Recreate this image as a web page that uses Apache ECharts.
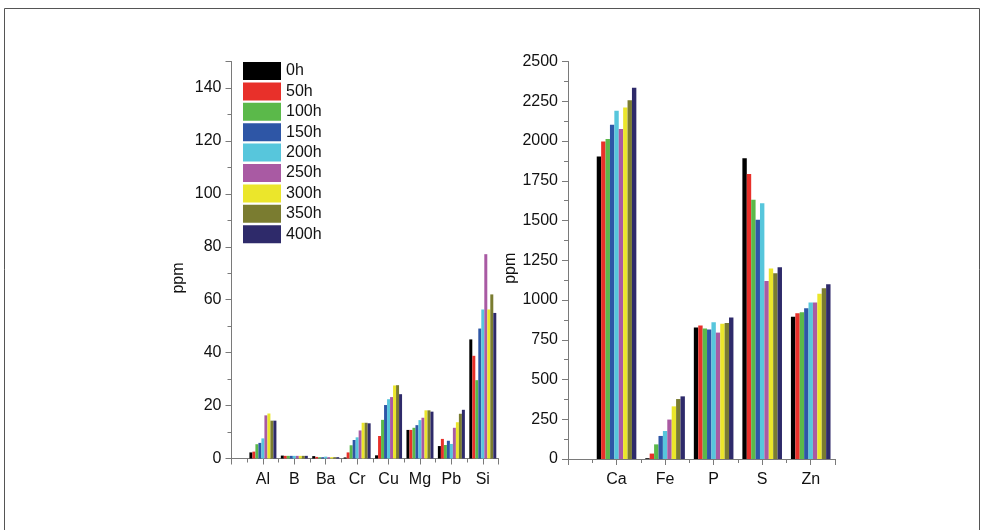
<!DOCTYPE html>
<html>
<head>
<meta charset="utf-8">
<script src="https://cdn.jsdelivr.net/npm/echarts@6/dist/echarts.min.js"></script>
<style>
  html, body { margin: 0; padding: 0; background: #fff; }
  #chart { width: 982px; height: 530px; }
</style>
</head>
<body>
<div id="chart"></div>
<script>
// Trace elements (left panel) and major elements (right panel), ppm
const traceElements = ['Al', 'B', 'Ba', 'Cr', 'Cu', 'Mg', 'Pb', 'Si'];
const majorElements = ['Ca', 'Fe', 'P', 'S', 'Zn'];
const hours = ['0h', '50h', '100h', '150h', '200h', '250h', '300h', '350h', '400h'];
const colors = ['#000000', '#e8302a', '#5bb94a', '#2e56a6', '#57c6dc', '#a95aa3', '#ebe62b', '#7a7c30', '#2e2a6a'];

// one row per element, one value per exposure time
const traceAl = [2.3, 2.6, 5.4, 5.9, 7.6, 16.3, 17.0, 14.3, 14.3];
const traceB  = [1.1, 1.0, 1.0, 1.0, 1.0, 1.0, 1.0, 1.0, 1.0];
const traceBa = [0.9, 0.6, 0.5, 0.5, 0.7, 0.5, 0.5, 0.5, 0.5];
const traceCr = [0.4, 2.3, 5.0, 7.0, 8.0, 10.6, 13.5, 13.5, 13.3];
const traceCu = [1.2, 8.5, 14.6, 20.2, 22.4, 23.2, 27.6, 27.7, 24.3];
const traceMg = [10.8, 10.8, 11.6, 12.6, 14.5, 15.4, 18.2, 18.2, 17.7];
const tracePb = [4.7, 7.4, 5.1, 6.7, 5.5, 11.6, 13.7, 16.9, 18.4];
const traceSi = [45.0, 38.8, 29.6, 49.1, 56.3, 77.2, 56.3, 62.0, 55.0];

const majorCa = [1902, 1997, 2012, 2102, 2190, 2075, 2211, 2257, 2335];
const majorFe = [5, 34, 92, 145, 176, 248, 331, 377, 394];
const majorP  = [827, 840, 820, 815, 860, 795, 850, 855, 890];
const majorS  = [1892, 1793, 1630, 1504, 1609, 1120, 1198, 1169, 1206];
const majorZn = [894, 917, 923, 948, 984, 984, 1040, 1074, 1099];

const traceRows = [traceAl, traceB, traceBa, traceCr, traceCu, traceMg, tracePb, traceSi];
const majorRows = [majorCa, majorFe, majorP, majorS, majorZn];

const FONT = 'Liberation Sans, Arial, sans-serif';
const axisGray = '#7a7a7a';

function catAxis(gridIndex, cats) {
  return {
    type: 'value', gridIndex: gridIndex,
    min: 0, max: cats.length + 0.5, interval: 1,
    axisLine: { show: true, lineStyle: { color: axisGray, width: 1 } },
    axisTick: { show: true, length: 6, lineStyle: { color: axisGray } },
    minorTick: { show: true, splitNumber: 2, length: 4, lineStyle: { color: axisGray } },
    splitLine: { show: false },
    axisLabel: {
      margin: 13, fontSize: 16, color: '#111', fontFamily: FONT,
      formatter: v => (Number.isInteger(v) && cats[v - 1] !== undefined) ? cats[v - 1] : ''
    }
  };
}

function valAxis(gridIndex, max, interval, gap, shift) {
  return {
    type: 'value', gridIndex: gridIndex,
    min: 0, max: max, interval: interval,
    name: 'ppm', nameLocation: 'middle', nameGap: gap,
    nameTextStyle: { fontSize: 16, color: '#111', fontFamily: FONT, padding: [0, shift, 0, 0] },
    axisLine: { show: true, lineStyle: { color: axisGray, width: 1 } },
    axisTick: { show: true, length: 6, lineStyle: { color: axisGray } },
    minorTick: { show: true, splitNumber: 2, length: 4, lineStyle: { color: axisGray } },
    splitLine: { show: false },
    axisLabel: {
      margin: 10, fontSize: 16, color: '#111', fontFamily: FONT,
      showMaxLabel: max % interval === 0,
      formatter: v => String(v)
    }
  };
}

const series = [];
hours.forEach((h, k) => {
  series.push({
    name: h, type: 'bar', xAxisIndex: 0, yAxisIndex: 0,
    barWidth: 3, barGap: '0%',
    itemStyle: { color: colors[k] },
    data: traceRows.map((row, i) => [i + 1, row[k]])
  });
});
hours.forEach((h, k) => {
  series.push({
    name: h, type: 'bar', xAxisIndex: 1, yAxisIndex: 1,
    barWidth: 4.4, barGap: '0%',
    itemStyle: { color: colors[k] },
    data: majorRows.map((row, i) => [i + 1, row[k]])
  });
});

const chart = echarts.init(document.getElementById('chart'), null, { renderer: 'canvas' });
chart.setOption({
  backgroundColor: '#ffffff',
  animation: false,
  textStyle: { fontFamily: FONT },
  graphic: [{
    type: 'rect', silent: true, z: -1,
    shape: { x: 4.5, y: 8.5, width: 975, height: 540 },
    style: { fill: 'none', stroke: '#555', lineWidth: 1 }
  }],
  legend: {
    orient: 'vertical', left: 243, top: 62, padding: 0,
    itemWidth: 38, itemHeight: 18, itemGap: 2.4,
    icon: 'rect',
    data: hours,
    textStyle: { fontSize: 16, color: '#111', fontFamily: FONT }
  },
  grid: [
    { left: 231.5, top: 61.5, width: 267, height: 397, containLabel: false },
    { left: 568, top: 61.5, width: 267, height: 397.5, containLabel: false }
  ],
  xAxis: [catAxis(0, traceElements), catAxis(1, majorElements)],
  yAxis: [valAxis(0, 150, 20, 45, 36), valAxis(1, 2500, 250, 48, 16)],
  series: series
});
</script>
</body>
</html>
